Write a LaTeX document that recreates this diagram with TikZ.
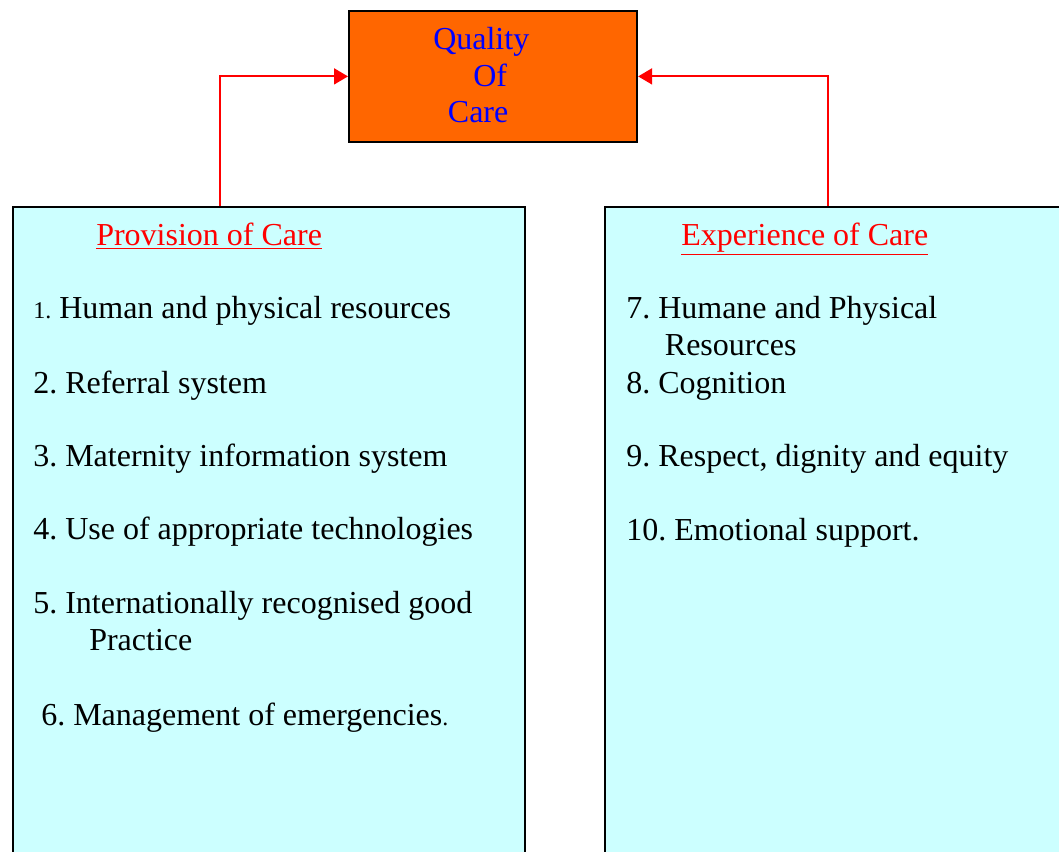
\documentclass[tikz,border=0pt]{standalone}
\usepackage{fontspec}
\setmainfont{Liberation Serif}
\usetikzlibrary{arrows.meta}

\definecolor{careorange}{HTML}{FF6600}
\definecolor{carecyan}{HTML}{CCFFFF}
\frenchspacing

\begin{document}
\begin{tikzpicture}[x=0.75pt,y=-0.75pt,
    box/.style={draw=black,line width=1.6pt,rectangle,anchor=north west,inner sep=0pt},
    item/.style={anchor=base west,inner sep=0pt,align=left,font=\fontsize{24}{27.5}\selectfont},
    head/.style={item,text=red},
    conn/.style={draw=red,line width=1.4pt,-{Triangle[length=10.5pt,width=12pt]}}]
  \useasboundingbox (0,0) rectangle (1059,852);
  \clip (0,0) rectangle (1059,852);

  % top box
  \node[box,fill=careorange,minimum width=216pt,minimum height=98pt] (quality) at (348,10) {};
  % base of a multi-line node is its last line
  \node[item,text=blue] (qtitle) at (433,123) {Quality\\\hspace{30pt}Of\\\hspace{11pt}Care};

  % the two columns
  \node[box,fill=carecyan,minimum width=384pt,minimum height=600pt] (provision) at (12,206) {};
  \node[box,fill=carecyan,minimum width=400pt,minimum height=600pt] (experience) at (604,206) {};

  \draw[conn] (provision.north west) ++(208,0) |- (quality.west);
  \draw[conn] (experience.north west) ++(224,0) |- (quality.east);

  \node[head] (provhead) at (96,246) {\underline{Provision of Care}};
  \node[head] (exphead) at (681,246) {\underline{Experience of Care}};

  \node[item] (p1) at (33,318) {{\fontsize{18}{20}\selectfont 1.} Human and physical resources};
  \node[item] (p2) at (33,393) {2. Referral system};
  \node[item] (p3) at (33,466) {3. Maternity information system};
  \node[item] (p4) at (33,539) {4. Use of appropriate technologies};
  \node[item] (p5) at (33,650) {5. Internationally recognised good\\\hspace{42pt}Practice};
  \node[item] (p6) at (41,725) {6. Management of emergencies{\fontsize{18}{20}\selectfont .}};

  \node[item] (e7) at (626,355) {7. Humane and Physical\\\hspace{29pt}Resources};
  \node[item] (e8) at (626,393) {8. Cognition};
  \node[item] (e9) at (626,466) {9. Respect, dignity and equity};
  \node[item] (e10) at (626,540) {10. Emotional support.};
\end{tikzpicture}
\end{document}
